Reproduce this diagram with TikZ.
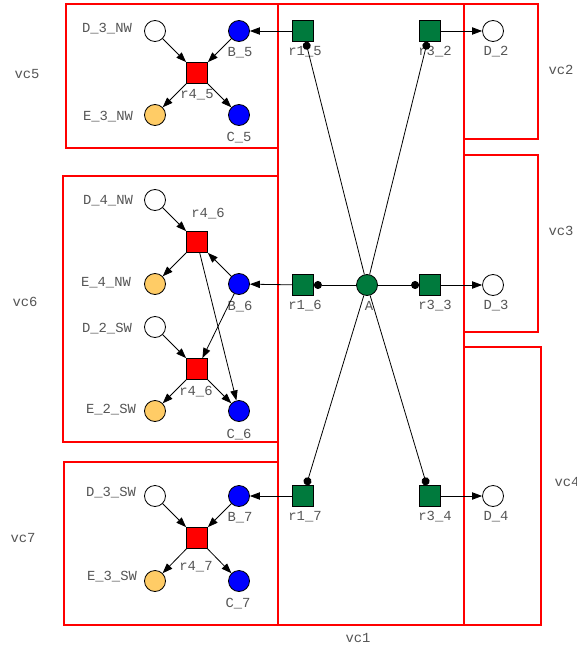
\documentclass[tikz,border=0pt]{standalone}
\usepackage{fontspec}
\setmonofont{Liberation Mono}
\usetikzlibrary{arrows.meta}
\definecolor{pgreen}{RGB}{0,122,61}
\definecolor{porange}{RGB}{255,204,102}
\definecolor{lblgray}{RGB}{85,85,85}
\begin{document}
\begin{tikzpicture}[x=0.75pt,y=-0.75pt,
  place/.style={circle,draw,line width=0.6pt,minimum size=15.75pt,inner sep=0pt},
  wplace/.style={place,fill=white},
  bplace/.style={place,fill=blue},
  oplace/.style={place,fill=porange},
  gplace/.style={place,fill=pgreen},
  trans/.style={rectangle,draw,line width=0.6pt,minimum size=15.75pt,inner sep=0pt},
  rtrans/.style={trans,fill=red},
  gtrans/.style={trans,fill=pgreen},
  lbl/.style={font=\ttfamily\fontsize{10.4}{12}\selectfont,text=lblgray,inner sep=0pt},
  vbox/.style={draw=red,line width=1.1pt},
  arc/.style={draw,line width=0.6pt,-{Triangle[length=7.5pt,width=5.5pt]}},
  readarc/.style={draw,line width=0.6pt,-{Circle[length=6pt]}}
]
\useasboundingbox (0,0) rectangle (576,649);

% boxes
\draw[vbox] (66,4) rectangle (278,148);
\draw[vbox] (63,176) rectangle (278,442);
\draw[vbox] (64,462) rectangle (278,625);
\draw[vbox] (278,4) rectangle (464,625);
\draw[vbox] (464,4) rectangle (538,139);
\draw[vbox] (464,155) rectangle (538,332);
\draw[vbox] (464,347) rectangle (541,625);

% box labels
\node[lbl] (lvc5) at (27,74) {vc5};
\node[lbl] (lvc6) at (25,302) {vc6};
\node[lbl] (lvc7) at (23,538) {vc7};
\node[lbl] (lvc1) at (358,638) {vc1};
\node[lbl] (lvc2) at (561,70) {vc2};
\node[lbl] (lvc3) at (561,231) {vc3};
\node[lbl] (lvc4) at (567,482) {vc4};

% vc5
\node[wplace] (D3NW) at (155,31) {};
\node[bplace] (B5) at (239,31) {};
\node[rtrans] (r45) at (197,73) {};
\node[oplace] (E3NW) at (155,115) {};
\node[bplace] (C5) at (239,115) {};
\node[lbl] (lD3NW) at (107,29) {D\_3\_NW};
\node[lbl] (lB5) at (240,53) {B\_5};
\node[lbl] (lr45) at (197,95) {r4\_5};
\node[lbl] (lE3NW) at (108,117) {E\_3\_NW};
\node[lbl] (lC5) at (239,138) {C\_5};

% vc6
\node[wplace] (D4NW) at (155,200) {};
\node[rtrans] (r46a) at (197,242) {};
\node[oplace] (E4NW) at (155,284) {};
\node[bplace] (B6) at (239,284) {};
\node[wplace] (D2SW) at (155,327) {};
\node[rtrans] (r46b) at (197,369) {};
\node[oplace] (E2SW) at (155,411) {};
\node[bplace] (C6) at (239,411) {};
\node[lbl] (lD4NW) at (108,201) {D\_4\_NW};
\node[lbl] (lr46a) at (208,214) {r4\_6};
\node[lbl] (lE4NW) at (106,283) {E\_4\_NW};
\node[lbl] (lB6) at (240,307) {B\_6};
\node[lbl] (lD2SW) at (107,329) {D\_2\_SW};
\node[lbl] (lr46b) at (196,392) {r4\_6};
\node[lbl] (lE2SW) at (111,410) {E\_2\_SW};
\node[lbl] (lC6) at (239,435) {C\_6};

% vc7
\node[wplace] (D3SW) at (155,496) {};
\node[bplace] (B7) at (239,496) {};
\node[rtrans] (r47) at (197,538) {};
\node[oplace] (E3SW) at (155,581) {};
\node[bplace] (C7) at (239,581) {};
\node[lbl] (lD3SW) at (111,493) {D\_3\_SW};
\node[lbl] (lB7) at (240,518) {B\_7};
\node[lbl] (lr47) at (196,567) {r4\_7};
\node[lbl] (lE3SW) at (112,577) {E\_3\_SW};
\node[lbl] (lC7) at (238,604) {C\_7};

% vc1 and right
\node[gplace] (A) at (367,285) {};
\node[gtrans] (r15) at (303,31) {};
\node[gtrans] (r32) at (430,31) {};
\node[wplace] (D2) at (493,31) {};
\node[gtrans] (r16) at (303,285) {};
\node[gtrans] (r33) at (430,285) {};
\node[wplace] (D3) at (493,285) {};
\node[gtrans] (r17) at (303,496) {};
\node[gtrans] (r34) at (430,496) {};
\node[wplace] (D4) at (493,496) {};
\node[lbl] (lr15) at (305,52) {r1\_5};
\node[lbl] (lr32) at (435,52) {r3\_2};
\node[lbl] (lD2) at (496,52) {D\_2};
\node[lbl] (lr16) at (305,306) {r1\_6};
\node[lbl] (lA) at (369,306) {A};
\node[lbl] (lr33) at (435,306) {r3\_3};
\node[lbl] (lD3) at (496,306) {D\_3};
\node[lbl] (lr17) at (305,517) {r1\_7};
\node[lbl] (lr34) at (435,517) {r3\_4};
\node[lbl] (lD4) at (496,517) {D\_4};

% read arcs
\draw[readarc] (A) -- (r15);
\draw[readarc] (A) -- (r32);
\draw[readarc] (A) -- (r16);
\draw[readarc] (A) -- (r33);
\draw[readarc] (A) -- (r17);
\draw[readarc] (A) -- (r34);

% arcs vc1
\draw[arc] (r15) -- (B5);
\draw[arc] (r32) -- (D2);
\draw[arc] (r16) -- (B6);
\draw[arc] (r33) -- (D3);
\draw[arc] (r17) -- (B7);
\draw[arc] (r34) -- (D4);

% arcs vc5
\draw[arc] (D3NW) -- (r45);
\draw[arc] (B5) -- (r45);
\draw[arc] (r45) -- (E3NW);
\draw[arc] (r45) -- (C5);

% arcs vc6
\draw[arc] (D4NW) -- (r46a);
\draw[arc] (B6) -- (r46a);
\draw[arc] (r46a) -- (E4NW);
\draw[arc] (r46a) -- (C6);
\draw[arc] (D2SW) -- (r46b);
\draw[arc] (B6) -- (r46b);
\draw[arc] (r46b) -- (E2SW);
\draw[arc] (r46b) -- (C6);

% arcs vc7
\draw[arc] (D3SW) -- (r47);
\draw[arc] (B7) -- (r47);
\draw[arc] (r47) -- (E3SW);
\draw[arc] (r47) -- (C7);
\end{tikzpicture}
\end{document}
